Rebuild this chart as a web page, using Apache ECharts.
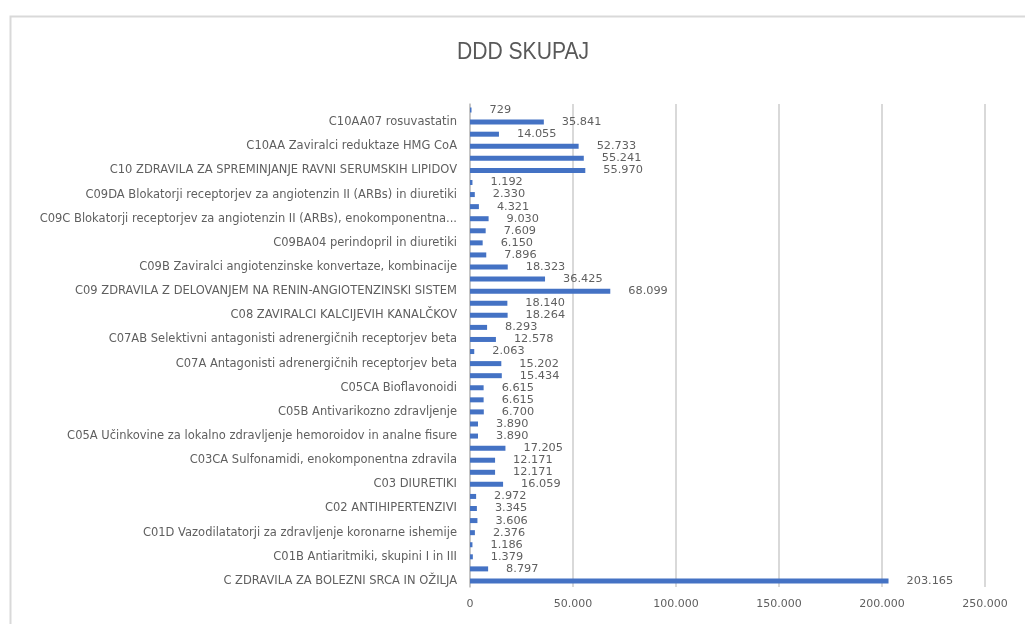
<!DOCTYPE html>
<html>
<head>
<meta charset="utf-8">
<script src="https://cdn.jsdelivr.net/npm/echarts@6/dist/echarts.min.js"></script>
<style>
  html, body { margin: 0; padding: 0; background: #ffffff; }
  #chart { width: 1025px; height: 624px; }
</style>
</head>
<body>
<div id="chart"></div>
<script>
// ATC groups, listed from the bottom of the axis upward
const categories = [
  'C ZDRAVILA ZA BOLEZNI SRCA IN OŽILJA',
  'C01 ZDRAVILA ZA BOLEZNI SRCA',
  'C01B Antiaritmiki, skupini I in III',
  'C01BD Antiaritmiki skupine III',
  'C01D Vazodilatatorji za zdravljenje koronarne ishemije',
  'C01DA Organski nitrati',
  'C02 ANTIHIPERTENZIVI',
  'C02C Antiadrenergične učinkovine s perifernim delovanjem',
  'C03 DIURETIKI',
  'C03C Diuretiki Henlejeve zanke',
  'C03CA Sulfonamidi, enokomponentna zdravila',
  'C05 ZDRAVILA ZA ZAŠČITO OŽILJA',
  'C05A Učinkovine za lokalno zdravljenje hemoroidov in analne fisure',
  'C05AX Druge učinkovine za zdravljenje hemoroidov',
  'C05B Antivarikozno zdravljenje',
  'C05C Učinkovine za stabilizacijo kapilar',
  'C05CA Bioflavonoidi',
  'C07 ANTAGONISTI ADRENERGIČNIH RECEPTORJEV BETA',
  'C07A Antagonisti adrenergičnih receptorjev beta',
  'C07AA Neselektivni antagonisti adrenergičnih receptorjev beta',
  'C07AB Selektivni antagonisti adrenergičnih receptorjev beta',
  'C07AB07 bisoprolol',
  'C08 ZAVIRALCI KALCIJEVIH KANALČKOV',
  'C08C Selektivni zaviralci kalcijevih kanalčkov',
  'C09 ZDRAVILA Z DELOVANJEM NA RENIN-ANGIOTENZINSKI SISTEM',
  'C09A Zaviralci angiotenzinske konvertaze, enokomponentna zdravila',
  'C09B Zaviralci angiotenzinske konvertaze, kombinacije',
  'C09BA Zaviralci angiotenzinske konvertaze in diuretiki',
  'C09BA04 perindopril in diuretiki',
  'C09BB Zaviralci angiotenzinske konvertaze in zaviralci kalcijevih kanalčkov',
  'C09C Blokatorji receptorjev za angiotenzin II (ARBs), enokomponentna zdravila',
  'C09D Blokatorji receptorjev za angiotenzin II (ARBs), kombinacije',
  'C09DA Blokatorji receptorjev za angiotenzin II (ARBs) in diuretiki',
  'C09DB Blokatorji receptorjev za angiotenzin II (ARBs) in zaviralci kalcijevih kanalčkov',
  'C10 ZDRAVILA ZA SPREMINJANJE RAVNI SERUMSKIH LIPIDOV',
  'C10A Zdravila za zmanjšanje holesterola in trigliceridov',
  'C10AA Zaviralci reduktaze HMG CoA',
  'C10AA05 atorvastatin',
  'C10AA07 rosuvastatin',
  'C10AX Druge učinkovine za zmanjšanje ravni lipidov'
];

// DDD totals per group (same order as categories)
const dddValues = [
  203165, 8797, 1379, 1186, 2376, 3606, 3345, 2972, 16059, 12171,
  12171, 17205, 3890, 3890, 6700, 6615, 6615, 15434, 15202, 2063,
  12578, 8293, 18264, 18140, 68099, 36425, 18323, 7896, 6150, 7609,
  9030, 4321, 2330, 1192, 55970, 55241, 52733, 14055, 35841, 729
];

const xTicks = [0, 50000, 100000, 150000, 200000, 250000];

const fmt = v => String(v).replace(/\B(?=(\d{3})+(?!\d))/g, '.');

const LABEL_FONT = 'DejaVu Sans, sans-serif';
const CAT_FONT_SIZE = 11.5;
const CAT_MAX_WIDTH = 425;

// Shorten long category names at a word boundary and append "..."
const measureCtx = document.createElement('canvas').getContext('2d');
measureCtx.font = CAT_FONT_SIZE + 'px ' + LABEL_FONT;
function fitLabel(text) {
  if (measureCtx.measureText(text).width <= CAT_MAX_WIDTH) return text;
  const words = text.split(' ');
  while (words.length > 1) {
    words.pop();
    const candidate = words.join(' ') + '...';
    if (measureCtx.measureText(candidate).width <= CAT_MAX_WIDTH) return candidate;
  }
  return text;
}

const chart = echarts.init(document.getElementById('chart'), null, { renderer: 'canvas' });

chart.setOption({
  animation: false,
  backgroundColor: '#ffffff',
  graphic: [
    {
      // chart frame
      type: 'rect',
      left: 8,
      top: 14,
      shape: { width: 1040, height: 640 },
      style: { fill: 'none', stroke: '#d9d9d9', lineWidth: 2 },
      silent: true
    },
    {
      // condensed title
      type: 'text',
      x: 523,
      y: 52,
      scaleX: 0.88,
      style: {
        text: 'DDD SKUPAJ',
        font: '24px "Liberation Sans", sans-serif',
        fill: '#595959',
        textAlign: 'center',
        textVerticalAlign: 'middle'
      },
      silent: true
    }
  ],
  grid: { left: 470, right: 40, top: 104, bottom: 37 },
  xAxis: {
    type: 'value',
    min: xTicks[0],
    max: xTicks[xTicks.length - 1],
    interval: xTicks[1] - xTicks[0],
    axisLine: { show: false },
    axisTick: { show: false },
    splitLine: { show: true, lineStyle: { color: '#d9d9d9', width: 2 } },
    axisLabel: {
      color: '#5f5f5f',
      fontSize: 11,
      fontFamily: LABEL_FONT,
      margin: 12,
      formatter: v => fmt(v)
    }
  },
  yAxis: {
    type: 'category',
    data: categories,
    axisTick: { show: false },
    axisLine: { show: true, lineStyle: { color: '#bfbfbf', width: 1.5 } },
    axisLabel: {
      interval: 1,
      color: '#5f5f5f',
      fontSize: CAT_FONT_SIZE,
      fontFamily: LABEL_FONT,
      margin: 13,
      formatter: fitLabel
    }
  },
  series: [{
    type: 'bar',
    data: dddValues,
    barWidth: 5,
    itemStyle: { color: '#4472c4' },
    label: {
      show: true,
      position: 'right',
      distance: 18,
      color: '#5f5f5f',
      fontSize: 11.3,
      fontFamily: LABEL_FONT,
      formatter: p => fmt(p.value)
    }
  }]
});
</script>
</body>
</html>
